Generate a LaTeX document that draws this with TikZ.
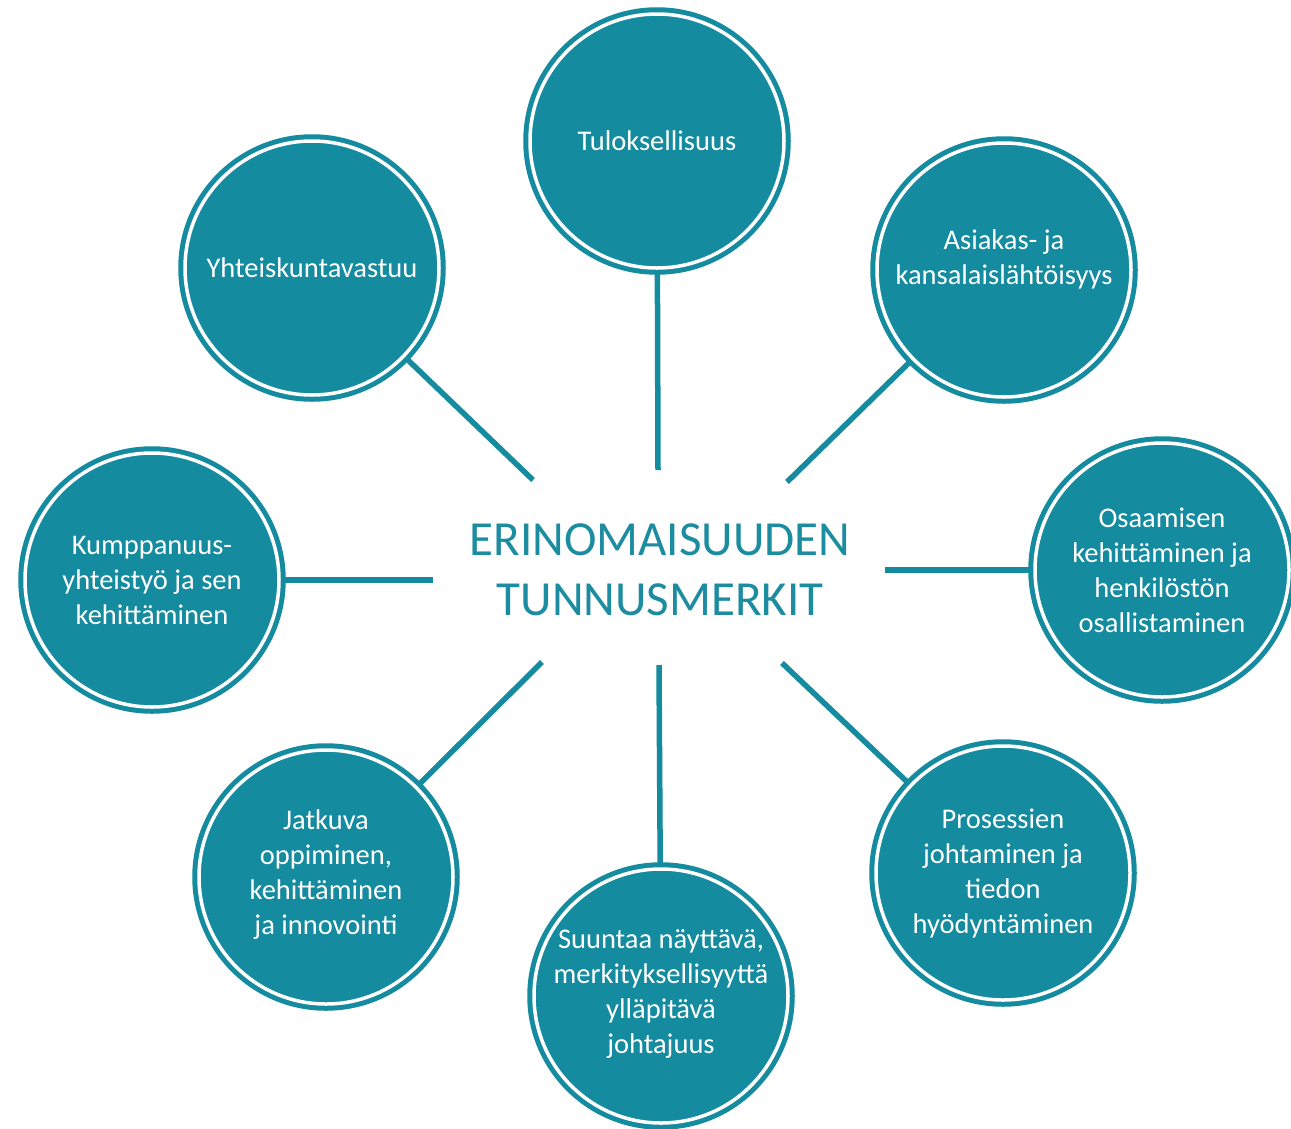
\documentclass[tikz,border=0pt]{standalone}
\usepackage{fontspec}
\setmainfont{Carlito}
\definecolor{teal1}{RGB}{20,139,159}
\definecolor{tealtxt}{RGB}{28,140,160}
\begin{document}
\begin{tikzpicture}[x=1pt,y=-1pt,
  bubble/.style={circle, minimum size=254pt, inner sep=0pt, fill=teal1, draw=teal1,
    line width=5pt, double=white, double distance=3.5pt, text=white, align=center,
    font=\fontsize{28.5}{35}\selectfont},
  spoke/.style={draw=teal1, line width=5.5pt},
  title/.style={text=tealtxt, align=center, font=\fontsize{49}{60}\selectfont}]
\useasboundingbox (0,0) rectangle (1291,1128);
\fill[white] (0,0) rectangle (1291,1128);

\node[title] (mid) at (660,570) {ERINOMAISUUDEN\\TUNNUSMERKIT};

\node[bubble] (tul) at (657,141) {Tuloksellisuus};
\node[bubble] (yht) at (312,268) {Yhteiskuntavastuu};
\node[bubble] (asi) at (1004,270) {Asiakas- ja\\kansalaislähtöisyys\\[-9pt]};
\node[bubble] (osa) at (1162,570) {Osaamisen\\kehittäminen ja\\henkilöstön\\osallistaminen};
\node[bubble] (kum) at (152,580) {Kumppanuus-\\yhteistyö ja sen\\kehittäminen};
\node[bubble] (jat) at (326,877) {\\[-20pt]Jatkuva\\oppiminen,\\kehittäminen\\ja innovointi};
\node[bubble] (suu) at (661,996) {\\[-20pt]Suuntaa näyttävä,\\merkityksellisyyttä\\ylläpitävä\\johtajuus};
\node[bubble] (pro) at (1003,873) {Prosessien\\johtaminen ja\\tiedon\\hyödyntäminen};

\coordinate (eT) at (658,470);
\coordinate (eTL) at (533,480);
\coordinate (eTR) at (787,482);
\coordinate (eL) at (433,580);
\coordinate (eR) at (885,570);
\coordinate (eBL) at (542,662);
\coordinate (eB) at (659,665);
\coordinate (eBR) at (782,663);

\draw[spoke] (tul) -- (eT);
\draw[spoke] (yht) -- (eTL);
\draw[spoke] (asi) -- (eTR);
\draw[spoke] (kum) -- (eL);
\draw[spoke] (osa) -- (eR);
\draw[spoke] (jat) -- (eBL);
\draw[spoke] (suu) -- (eB);
\draw[spoke] (pro) -- (eBR);
\end{tikzpicture}
\end{document}
